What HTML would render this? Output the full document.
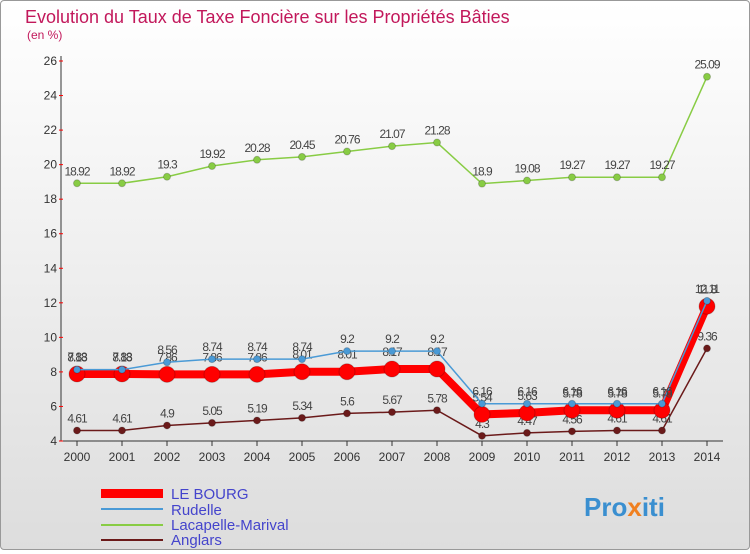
<!DOCTYPE html>
<html><head><meta charset="utf-8"><style>
body{margin:0;width:750px;height:550px;overflow:hidden;font-family:"Liberation Sans",sans-serif}
#c{width:748px;height:548px;border:1px solid #999;background:linear-gradient(#fff,#ddd);position:relative;border-radius:4px}
</style></head><body>
<div id="c">
<svg id="s" width="748" height="548" xmlns="http://www.w3.org/2000/svg">
<text x="24" y="22" font-size="18" fill="#c2185b">Evolution du Taux de Taxe Foncière sur les Propriétés Bâties</text>
<text x="26" y="38" font-size="12" fill="#c2185b">(en %)</text>
<g id="axes"></g><g id="series"></g>
<g font-size="15">
<rect x="100" y="488" width="62" height="9" fill="#ff0000"/>
<text x="170" y="498" fill="#4444cc">LE BOURG</text>
<line x1="100" y1="508" x2="162" y2="508" stroke="#4a9ad6" stroke-width="2"/>
<text x="170" y="514" fill="#4444cc">Rudelle</text>
<line x1="100" y1="524" x2="162" y2="524" stroke="#88cc44" stroke-width="2"/>
<text x="170" y="529" fill="#4444cc">Lacapelle-Marival</text>
<line x1="100" y1="539" x2="162" y2="539" stroke="#6b1a1a" stroke-width="2"/>
<text x="170" y="544" fill="#4444cc">Anglars</text>
</g>
<text x="583" y="515" font-size="26" font-weight="bold" fill="#3a8fd0">Pro<tspan fill="#f08020">x</tspan>iti</text>
</svg></div>
<script>
const years=[2000,2001,2002,2003,2004,2005,2006,2007,2008,2009,2010,2011,2012,2013,2014];
const yTicks=[4,6,8,10,12,14,16,18,20,22,24,26];
const leBourg=[7.88,7.88,7.86,7.86,7.86,8.01,8.01,8.17,8.17,5.54,5.63,5.78,5.78,5.78,11.8];
const rudelle=[8.13,8.13,8.56,8.74,8.74,8.74,9.2,9.2,9.2,6.16,6.16,6.16,6.16,6.16,12.11];
const lacapelle=[18.92,18.92,19.3,19.92,20.28,20.45,20.76,21.07,21.28,18.9,19.08,19.27,19.27,19.27,25.09];
const anglars=[4.61,4.61,4.9,5.05,5.19,5.34,5.6,5.67,5.78,4.3,4.47,4.56,4.61,4.61,9.36];
const NS="http://www.w3.org/2000/svg";
const x=i=>76+i*45, y=v=>440-(v-4)*380/22;
function mk(t,a,p){const e=document.createElementNS(NS,t);for(const k in a)e.setAttribute(k,a[k]);p.appendChild(e);return e;}
const ax=document.getElementById('axes'), sg=document.getElementById('series');
const yl=mk('line',{x1:60,y1:55,x2:60,y2:440,stroke:'#333'},ax);


const xl=mk('line',{x1:60,y1:440,x2:722,y2:440,stroke:'#333'},ax);


yTicks.forEach(v=>{const t=mk('text',{x:56,y:y(v)+4,'font-size':12,'text-anchor':'end',fill:'#333'},ax);t.textContent=v;


mk('line',{x1:58,y1:y(v),x2:62,y2:y(v),stroke:'#f00'},ax);});
years.forEach((yr,i)=>{const t=mk('text',{x:x(i),y:460,'font-size':12,'text-anchor':'middle',fill:'#333'},ax);t.textContent=yr;


mk('line',{x1:x(i),y1:440,x2:x(i),y2:445,stroke:'#333'},ax);});
function series(d,col,w,r,name,off){
const p=mk('polyline',{points:d.map((v,i)=>x(i)+','+y(v)).join(' '),fill:'none',stroke:col,'stroke-width':w},sg);


d.forEach((v,i)=>{const c=mk('circle',{cx:x(i),cy:y(v),r:r,fill:col,stroke:'#0003'},sg);


const t=mk('text',{x:x(i),y:y(v)-off,'font-size':12,'text-anchor':'middle',fill:'#444','letter-spacing':'-1'},sg);t.textContent=v;

});}
series(lacapelle,'#88cc44',1.5,3.5,'lacapelle',8);
series(anglars,'#6b1a1a',1.5,3.5,'anglars',8);
series(leBourg,'#ff0000',8,8,'le-bourg',13);
series(rudelle,'#4a9ad6',1.5,3.5,'rudelle',8);
</script></body></html>
